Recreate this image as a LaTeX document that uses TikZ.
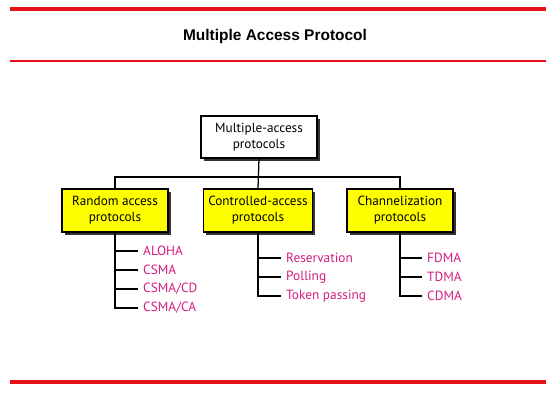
\documentclass[tikz,border=0pt]{standalone}
\usepackage{fontspec}
\setmainfont{PT Sans}
\newfontfamily\titlefont{Liberation Sans}
\usetikzlibrary{shadows}
\definecolor{slidered}{RGB}{232,16,24}
\definecolor{itemmagenta}{RGB}{212,28,128}
\definecolor{boxyellow}{RGB}{255,255,0}

\begin{document}
\begin{tikzpicture}[x=0.025cm, y=-0.025cm]
	\tikzstyle{rootbox}=[rectangle, draw, line width=0.8pt, fill=white,
	align=center, font=\fontsize{9.4}{11.4}\selectfont,
	minimum width=2.9cm, minimum height=1.05cm,
	drop shadow={shadow xshift=2pt, shadow yshift=-2pt, opacity=1, fill=black!80}]
	\tikzstyle{groupbox}=[rootbox, fill=boxyellow,
	minimum width=2.65cm, minimum height=1.075cm]
	\tikzstyle{item}=[anchor=west, inner xsep=3.5pt, text=itemmagenta,
	font=\fontsize{9.5}{11}\selectfont]
	\tikzstyle{wire}=[line width=0.9pt, black]

	\useasboundingbox (0,0) rectangle (560,420);

	\draw[slidered, line width=2.8pt] (10,9) -- (546,9);
	\node (title) at (275,37) {\titlefont\bfseries\fontsize{11}{13}\selectfont Multiple Access Protocol};
	\draw[slidered, line width=0.8pt] (10,61) -- (546,61);
	\draw[slidered, line width=2.8pt] (10,382) -- (546,382);

	\node[rootbox] at (259,137) (root) {Multiple-access\\protocols};
	\node[groupbox] at (115,210.5) (random) {Random access\\protocols};
	\node[groupbox] at (258,210.5) (controlled) {Controlled-access\\protocols};
	\node[groupbox] at (400,210.5) (channel) {Channelization\\protocols};

	\node[item] at (138,251) (aloha) {ALOHA};
	\node[item] at (138,270) (csma) {CSMA};
	\node[item] at (138,289) (csmacd) {CSMA/CD};
	\node[item] at (138,308) (csmaca) {CSMA/CA};

	\node[item] at (281,258) (reservation) {Reservation};
	\node[item] at (281,277) (polling) {Polling};
	\node[item] at (281,296) (token) {Token passing};

	\node[item] at (422,258) (fdma) {FDMA};
	\node[item] at (422,277) (tdma) {TDMA};
	\node[item] at (422,296) (cdma) {CDMA};

	\coordinate (bus) at (258,177);
	\draw[wire] (root.south) -- (controlled.north);
	\draw[wire] (random.north) |- (bus) -| (channel.north);

	\draw[wire] (random.south) |- (csmaca.west);
	\draw[wire] (random.south |- aloha) -- (aloha.west);
	\draw[wire] (random.south |- csma) -- (csma.west);
	\draw[wire] (random.south |- csmacd) -- (csmacd.west);

	\draw[wire] (controlled.south) |- (token.west);
	\draw[wire] (controlled.south |- reservation) -- (reservation.west);
	\draw[wire] (controlled.south |- polling) -- (polling.west);

	\draw[wire] (channel.south) |- (cdma.west);
	\draw[wire] (channel.south |- fdma) -- (fdma.west);
	\draw[wire] (channel.south |- tdma) -- (tdma.west);
\end{tikzpicture}
\end{document}
